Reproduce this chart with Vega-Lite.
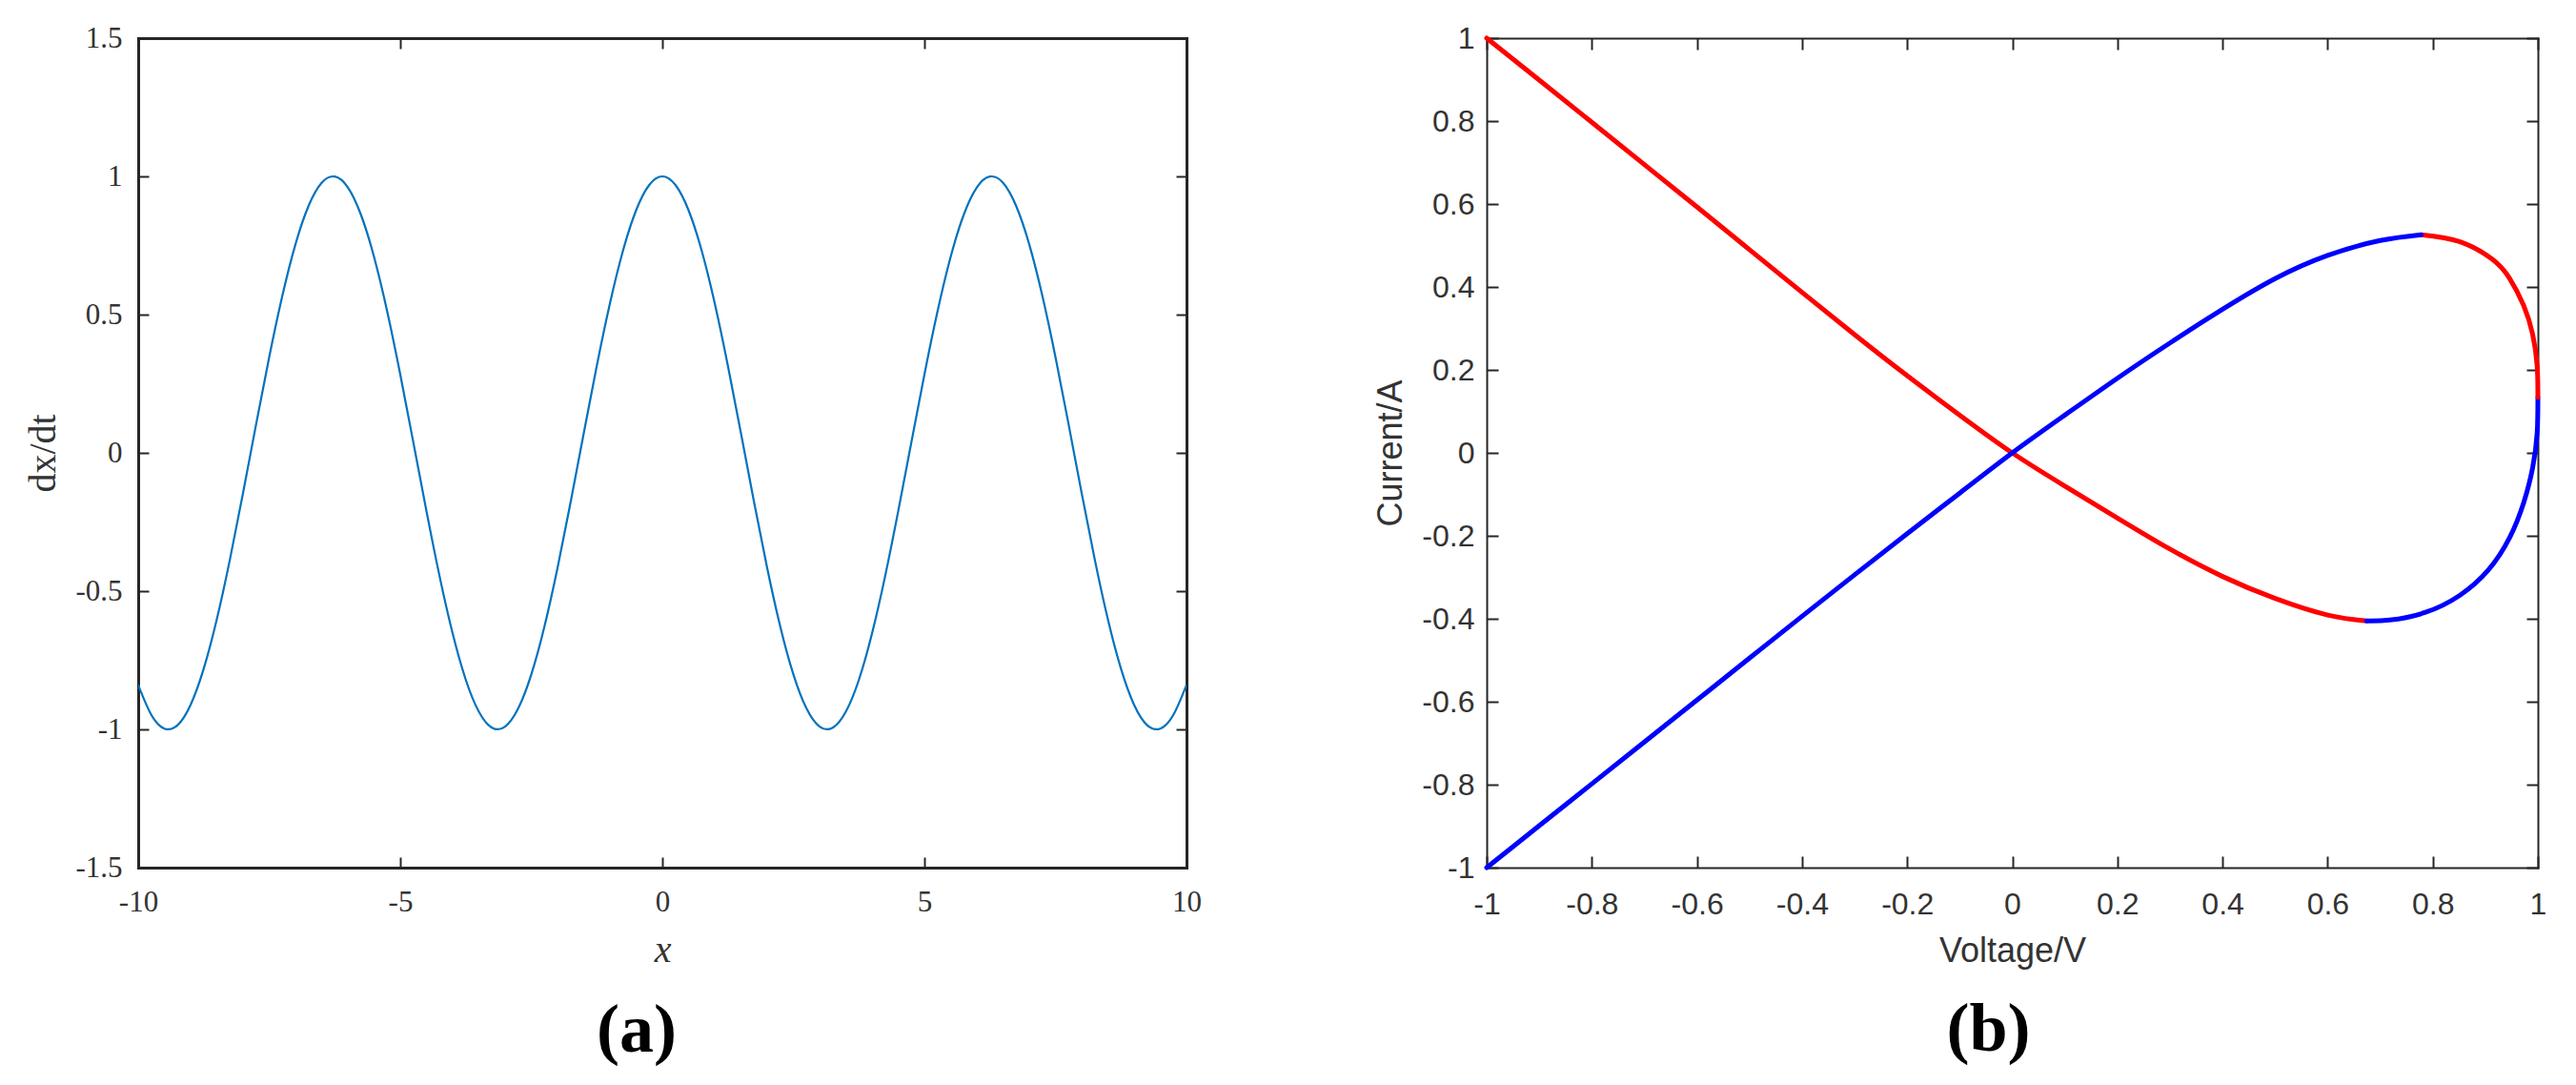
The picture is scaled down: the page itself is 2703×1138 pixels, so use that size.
{
  "$schema": "https://vega.github.io/schema/vega-lite/v6.json",
  "background": "white",
  "padding": {"left": 25, "top": 24, "right": 10, "bottom": 5},
  "bounds": "flush",
  "spacing": 315,
  "config": {"view": {"stroke": null}, "axis": {"grid": false}},
  "datasets": {
    "a": [
      {"x": -10, "y": -0.8391}, {"x": -9.75, "y": -0.9476}, {"x": -9.5, "y": -0.9972}, {"x": -9.25, "y": -0.9848},
      {"x": -9, "y": -0.9111}, {"x": -8.75, "y": -0.7808}, {"x": -8.5, "y": -0.602}, {"x": -8.25, "y": -0.3857},
      {"x": -8, "y": -0.1455}, {"x": -7.75, "y": 0.1038}, {"x": -7.5, "y": 0.3466}, {"x": -7.25, "y": 0.5679},
      {"x": -7, "y": 0.7539}, {"x": -6.75, "y": 0.893}, {"x": -6.5, "y": 0.9766}, {"x": -6.25, "y": 0.9994},
      {"x": -6, "y": 0.9602}, {"x": -5.75, "y": 0.8612}, {"x": -5.5, "y": 0.7087}, {"x": -5.25, "y": 0.5121},
      {"x": -5, "y": 0.2837}, {"x": -4.75, "y": 0.0375}, {"x": -4.5, "y": -0.2108}, {"x": -4.25, "y": -0.4461},
      {"x": -4, "y": -0.6536}, {"x": -3.75, "y": -0.8206}, {"x": -3.5, "y": -0.9365}, {"x": -3.25, "y": -0.9941},
      {"x": -3, "y": -0.99}, {"x": -2.75, "y": -0.9243}, {"x": -2.5, "y": -0.8011}, {"x": -2.25, "y": -0.6282},
      {"x": -2, "y": -0.4161}, {"x": -1.75, "y": -0.1782}, {"x": -1.5, "y": 0.0707}, {"x": -1.25, "y": 0.3153},
      {"x": -1, "y": 0.5403}, {"x": -0.75, "y": 0.7317}, {"x": -0.5, "y": 0.8776}, {"x": -0.25, "y": 0.9689},
      {"x": 0, "y": 1},
      {"x": 0.25, "y": 0.9689}, {"x": 0.5, "y": 0.8776}, {"x": 0.75, "y": 0.7317}, {"x": 1, "y": 0.5403},
      {"x": 1.25, "y": 0.3153}, {"x": 1.5, "y": 0.0707}, {"x": 1.75, "y": -0.1782}, {"x": 2, "y": -0.4161},
      {"x": 2.25, "y": -0.6282}, {"x": 2.5, "y": -0.8011}, {"x": 2.75, "y": -0.9243}, {"x": 3, "y": -0.99},
      {"x": 3.25, "y": -0.9941}, {"x": 3.5, "y": -0.9365}, {"x": 3.75, "y": -0.8206}, {"x": 4, "y": -0.6536},
      {"x": 4.25, "y": -0.4461}, {"x": 4.5, "y": -0.2108}, {"x": 4.75, "y": 0.0375}, {"x": 5, "y": 0.2837},
      {"x": 5.25, "y": 0.5121}, {"x": 5.5, "y": 0.7087}, {"x": 5.75, "y": 0.8612}, {"x": 6, "y": 0.9602},
      {"x": 6.25, "y": 0.9994}, {"x": 6.5, "y": 0.9766}, {"x": 6.75, "y": 0.893}, {"x": 7, "y": 0.7539},
      {"x": 7.25, "y": 0.5679}, {"x": 7.5, "y": 0.3466}, {"x": 7.75, "y": 0.1038}, {"x": 8, "y": -0.1455},
      {"x": 8.25, "y": -0.3857}, {"x": 8.5, "y": -0.602}, {"x": 8.75, "y": -0.7808}, {"x": 9, "y": -0.9111},
      {"x": 9.25, "y": -0.9848}, {"x": 9.5, "y": -0.9972}, {"x": 9.75, "y": -0.9476}, {"x": 10, "y": -0.8391}
    ],
    "b": [
      {"seg": 1, "c": "red", "t": 0, "v": -1, "i": 1.0},
      {"seg": 1, "c": "red", "t": 1, "v": -0.9, "i": 0.899},
      {"seg": 1, "c": "red", "t": 2, "v": -0.8, "i": 0.797},
      {"seg": 1, "c": "red", "t": 3, "v": -0.7, "i": 0.695},
      {"seg": 1, "c": "red", "t": 4, "v": -0.6, "i": 0.593},
      {"seg": 1, "c": "red", "t": 5, "v": -0.5, "i": 0.49},
      {"seg": 1, "c": "red", "t": 6, "v": -0.4, "i": 0.387},
      {"seg": 1, "c": "red", "t": 7, "v": -0.3, "i": 0.285},
      {"seg": 1, "c": "red", "t": 8, "v": -0.2, "i": 0.186},
      {"seg": 1, "c": "red", "t": 9, "v": -0.1, "i": 0.091},
      {"seg": 1, "c": "red", "t": 10, "v": 0, "i": 0},
      {"seg": 1, "c": "red", "t": 11, "v": 0.1, "i": -0.08},
      {"seg": 1, "c": "red", "t": 12, "v": 0.2, "i": -0.157},
      {"seg": 1, "c": "red", "t": 13, "v": 0.3, "i": -0.232},
      {"seg": 1, "c": "red", "t": 14, "v": 0.4, "i": -0.298},
      {"seg": 1, "c": "red", "t": 15, "v": 0.5, "i": -0.351},
      {"seg": 1, "c": "red", "t": 16, "v": 0.6, "i": -0.391},
      {"seg": 1, "c": "red", "t": 17, "v": 0.674, "i": -0.405},
      {"seg": 2, "c": "blue", "t": 18, "v": 0.674, "i": -0.405},
      {"seg": 2, "c": "blue", "t": 19, "v": 0.718, "i": -0.403},
      {"seg": 2, "c": "blue", "t": 20, "v": 0.785, "i": -0.385},
      {"seg": 2, "c": "blue", "t": 21, "v": 0.852, "i": -0.343},
      {"seg": 2, "c": "blue", "t": 22, "v": 0.906, "i": -0.282},
      {"seg": 2, "c": "blue", "t": 23, "v": 0.946, "i": -0.205},
      {"seg": 2, "c": "blue", "t": 24, "v": 0.973, "i": -0.12},
      {"seg": 2, "c": "blue", "t": 25, "v": 0.99, "i": -0.036},
      {"seg": 2, "c": "blue", "t": 26, "v": 0.9986, "i": 0.048},
      {"seg": 2, "c": "blue", "t": 27, "v": 1, "i": 0.134},
      {"seg": 3, "c": "red", "t": 28, "v": 1, "i": 0.134},
      {"seg": 3, "c": "red", "t": 29, "v": 0.9986, "i": 0.21},
      {"seg": 3, "c": "red", "t": 30, "v": 0.99, "i": 0.286},
      {"seg": 3, "c": "red", "t": 31, "v": 0.973, "i": 0.355},
      {"seg": 3, "c": "red", "t": 32, "v": 0.946, "i": 0.421},
      {"seg": 3, "c": "red", "t": 33, "v": 0.913, "i": 0.467},
      {"seg": 3, "c": "red", "t": 34, "v": 0.852, "i": 0.509},
      {"seg": 3, "c": "red", "t": 35, "v": 0.778, "i": 0.526},
      {"seg": 4, "c": "blue", "t": 36, "v": 0.778, "i": 0.526},
      {"seg": 4, "c": "blue", "t": 37, "v": 0.7, "i": 0.512},
      {"seg": 4, "c": "blue", "t": 38, "v": 0.6, "i": 0.476},
      {"seg": 4, "c": "blue", "t": 39, "v": 0.5, "i": 0.42},
      {"seg": 4, "c": "blue", "t": 40, "v": 0.4, "i": 0.346},
      {"seg": 4, "c": "blue", "t": 41, "v": 0.3, "i": 0.265},
      {"seg": 4, "c": "blue", "t": 42, "v": 0.2, "i": 0.18},
      {"seg": 4, "c": "blue", "t": 43, "v": 0.1, "i": 0.091},
      {"seg": 4, "c": "blue", "t": 44, "v": 0, "i": 0},
      {"seg": 4, "c": "blue", "t": 45, "v": -0.1, "i": -0.097},
      {"seg": 4, "c": "blue", "t": 46, "v": -0.2, "i": -0.195},
      {"seg": 4, "c": "blue", "t": 47, "v": -0.3, "i": -0.294},
      {"seg": 4, "c": "blue", "t": 48, "v": -0.4, "i": -0.394},
      {"seg": 4, "c": "blue", "t": 49, "v": -0.5, "i": -0.495},
      {"seg": 4, "c": "blue", "t": 50, "v": -0.6, "i": -0.596},
      {"seg": 4, "c": "blue", "t": 51, "v": -0.7, "i": -0.697},
      {"seg": 4, "c": "blue", "t": 52, "v": -0.8, "i": -0.798},
      {"seg": 4, "c": "blue", "t": 53, "v": -0.9, "i": -0.899},
      {"seg": 4, "c": "blue", "t": 54, "v": -1, "i": -1}
    ]
  },
  "hconcat": [
    {
      "width": 1100,
      "height": 870,
      "data": {"name": "a"},
      "title": {"text": "(a)", "orient": "bottom", "anchor": "middle", "frame": "group", "font": "Liberation Serif", "fontSize": 72, "fontWeight": "bold", "color": "#000000", "baseline": "alphabetic", "offset": 87, "dx": -27},
      "layer": [
        {
          "mark": {"type": "line", "color": "#0072BD", "strokeWidth": 2.2, "interpolate": "natural", "clip": true},
          "encoding": {
            "x": {"field": "x", "type": "quantitative", "scale": {"domain": [-10, 10], "nice": false},
              "axis": {"orient": "bottom", "values": [-10, -5, 0, 5, 10], "labelExpr": "'' + datum.value", "tickSize": -11, "tickWidth": 2, "tickColor": "#262626", "domainColor": "#262626", "domainWidth": 3, "domainCap": "square", "labelFont": "Liberation Serif", "labelFontSize": 31, "labelColor": "#333333", "labelPadding": 32, "labelFlush": false, "labelOverlap": false, "title": "x", "titleFont": "Liberation Serif", "titleFontStyle": "italic", "titleFontWeight": "normal", "titleFontSize": 40, "titleColor": "#333333", "titleBaseline": "alphabetic", "titleY": 98}},
            "y": {"field": "y", "type": "quantitative", "scale": {"domain": [-1.5, 1.5], "nice": false},
              "axis": {"orient": "left", "values": [-1.5, -1, -0.5, 0, 0.5, 1, 1.5], "labelExpr": "'' + datum.value", "tickSize": -11, "tickWidth": 2, "tickColor": "#262626", "domainColor": "#262626", "domainWidth": 3, "domainCap": "square", "labelFont": "Liberation Serif", "labelFontSize": 31, "labelColor": "#333333", "labelPadding": 28, "labelFlush": false, "labelOverlap": false, "title": "dx/dt", "titleFont": "Liberation Serif", "titleFontWeight": "normal", "titleFontSize": 40, "titleColor": "#333333", "titleBaseline": "alphabetic", "titleAngle": -90, "titleX": -88}}
          }
        },
        {
          "mark": {"type": "line", "opacity": 0},
          "encoding": {
            "x": {"field": "x", "type": "quantitative",
              "axis": {"orient": "top", "values": [-10, -5, 0, 5, 10], "labels": false, "title": null, "tickSize": -11, "tickWidth": 2, "tickColor": "#262626", "domainColor": "#262626", "domainWidth": 3, "domainCap": "square"}},
            "y": {"field": "y", "type": "quantitative",
              "axis": {"orient": "right", "values": [-1.5, -1, -0.5, 0, 0.5, 1, 1.5], "labels": false, "title": null, "tickSize": -11, "tickWidth": 2, "tickColor": "#262626", "domainColor": "#262626", "domainWidth": 3, "domainCap": "square"}}
          }
        }
      ],
      "resolve": {"axis": {"x": "independent", "y": "independent"}}
    },
    {
      "width": 1103,
      "height": 870,
      "data": {"name": "b"},
      "title": {"text": "(b)", "orient": "bottom", "anchor": "middle", "frame": "group", "font": "Liberation Serif", "fontSize": 72, "fontWeight": "bold", "color": "#000000", "baseline": "alphabetic", "offset": 87, "dx": -25},
      "layer": [
        {
          "mark": {"type": "line", "strokeWidth": 5, "strokeCap": "round", "interpolate": "natural", "clip": false},
          "encoding": {
            "x": {"field": "v", "type": "quantitative", "scale": {"domain": [-1, 1], "nice": false},
              "axis": {"orient": "bottom", "values": [-1, -0.8, -0.6, -0.4, -0.2, 0, 0.2, 0.4, 0.6, 0.8, 1], "labelExpr": "'' + datum.value", "tickSize": -12, "tickWidth": 2, "tickColor": "#262626", "domainColor": "#262626", "domainWidth": 2, "domainCap": "square", "labelFont": "Liberation Sans", "labelFontSize": 32, "labelColor": "#333333", "labelPadding": 35, "labelFlush": false, "labelOverlap": false, "title": "Voltage/V", "titleFont": "Liberation Sans", "titleFontWeight": "normal", "titleFontSize": 36, "titleColor": "#333333", "titleBaseline": "alphabetic", "titleY": 98}},
            "y": {"field": "i", "type": "quantitative", "scale": {"domain": [-1, 1], "nice": false},
              "axis": {"orient": "left", "values": [-1, -0.8, -0.6, -0.4, -0.2, 0, 0.2, 0.4, 0.6, 0.8, 1], "labelExpr": "'' + datum.value", "tickSize": -12, "tickWidth": 2, "tickColor": "#262626", "domainColor": "#262626", "domainWidth": 2, "domainCap": "square", "labelFont": "Liberation Sans", "labelFontSize": 32, "labelColor": "#333333", "labelPadding": 25, "labelFlush": false, "labelOverlap": false, "title": "Current/A", "titleFont": "Liberation Sans", "titleFontWeight": "normal", "titleFontSize": 36, "titleColor": "#333333", "titleBaseline": "alphabetic", "titleAngle": -90, "titleX": -90}},
            "color": {"field": "c", "type": "nominal", "scale": {"domain": ["red", "blue"], "range": ["#ff0000", "#0000ff"]}, "legend": null},
            "detail": {"field": "seg", "type": "nominal"},
            "order": {"field": "t", "type": "quantitative"}
          }
        },
        {
          "mark": {"type": "line", "opacity": 0},
          "encoding": {
            "x": {"field": "v", "type": "quantitative",
              "axis": {"orient": "top", "values": [-1, -0.8, -0.6, -0.4, -0.2, 0, 0.2, 0.4, 0.6, 0.8, 1], "labels": false, "title": null, "tickSize": -12, "tickWidth": 2, "tickColor": "#262626", "domainColor": "#262626", "domainWidth": 2, "domainCap": "square"}},
            "y": {"field": "i", "type": "quantitative",
              "axis": {"orient": "right", "values": [-1, -0.8, -0.6, -0.4, -0.2, 0, 0.2, 0.4, 0.6, 0.8, 1], "labels": false, "title": null, "tickSize": -12, "tickWidth": 2, "tickColor": "#262626", "domainColor": "#262626", "domainWidth": 2, "domainCap": "square"}},
            "detail": {"field": "seg", "type": "nominal"},
            "order": {"field": "t", "type": "quantitative"}
          }
        }
      ],
      "resolve": {"axis": {"x": "independent", "y": "independent"}}
    }
  ]
}
